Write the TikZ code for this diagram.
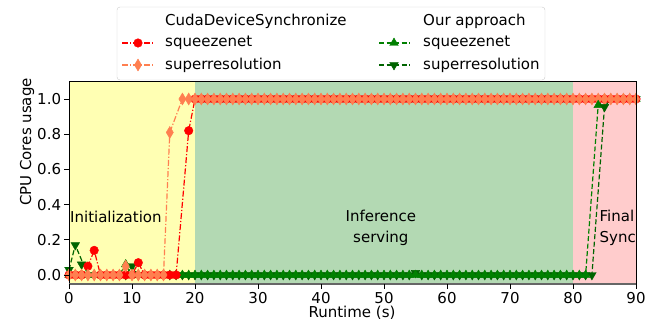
\documentclass[tikz,border=0pt]{standalone}
\usepackage{fontspec}
\setmainfont{DejaVu Sans}
\usetikzlibrary{plotmarks}

\definecolor{initspan}{RGB}{255,255,179}
\definecolor{servespan}{RGB}{179,217,179}
\definecolor{syncspan}{RGB}{255,204,204}
\definecolor{coral}{RGB}{255,127,80}
\definecolor{mplgreen}{RGB}{0,128,0}
\definecolor{mpldarkgreen}{RGB}{0,100,0}

\tikzset{
    cudaline/.style = {line width=1.2pt, dash pattern=on 6pt off 2pt on 1.2pt off 2pt},
    oursline/.style = {line width=1.2pt, dash pattern=on 5pt off 2.5pt},
    sqzcuda/.style = {red, only marks, mark=*, mark size=4.3pt,
        mark options={solid, line width=0.4pt, fill=red}},
    srcuda/.style = {coral, only marks, mark=diamond*, mark size=6pt,
        mark options={solid, line width=0.4pt, fill=coral, xscale=0.8}},
    sqzours/.style = {mplgreen, only marks, mark=triangle*, mark size=5pt,
        mark options={solid, line width=0.4pt, fill=mplgreen}},
    srours/.style = {mpldarkgreen, only marks, mark=triangle*, mark size=5pt,
        mark options={solid, line width=0.4pt, fill=mpldarkgreen, rotate=180}},
    ticklabel/.style = {font=\fontsize{15}{18}\selectfont, inner sep=0pt},
    phase/.style = {font=\fontsize{15}{21}\selectfont, inner sep=0pt},
    legendtext/.style = {font=\fontsize{15}{18}\selectfont, inner sep=0pt, anchor=west},
}

\begin{document}
\begin{tikzpicture}

    \useasboundingbox (0pt,0pt) rectangle (655pt,324pt);

    % Data coordinates: runtime in s, usage in cores.
    \begin{scope}[x=6.3pt, y=176pt, shift={(69pt,49pt)}]

        \coordinate (lowleft) at (0,-0.05);
        \coordinate (upright) at (90,1.1);

        % The three phases.
        \fill[initspan] (0,-0.05) rectangle (20,1.1);
        \fill[servespan] (20,-0.05) rectangle (80,1.1);
        \fill[syncspan] (80,-0.05) rectangle (90,1.1);

        \begin{scope}
            \clip (lowleft) rectangle (upright);
            \node[phase, anchor=west] (initlabel) at (0.15,0.33) {Initialization};
            \node[phase, align=center] (servelabel) at (49.5,0.267) {Inference\\serving};
            \node[phase, align=left, anchor=west] (synclabel) at (84.2,0.267) {Final\\Sync};
        \end{scope}

        % Our approach, superresolution.
        \draw[oursline, mpldarkgreen] plot coordinates {(0,0.03) (1,0.17) (3,0) (9,0)
            (10,0.05) (11,0) (54,0) (55,0.012) (56,0) (83,0) (85,0.955) (86,1) (90,1)};
        \foreach \t in {3,...,9} \path[srours] plot coordinates {(\t,0)};
        \foreach \t in {11,...,54} \path[srours] plot coordinates {(\t,0)};
        \foreach \t in {56,...,83} \path[srours] plot coordinates {(\t,0)};
        \foreach \t in {86,...,90} \path[srours] plot coordinates {(\t,1)};
        \path[srours] plot coordinates {(0,0.03) (1,0.17) (2,0.06) (10,0.05) (55,0.012)};

        % Our approach, squeezenet.
        \draw[oursline, mplgreen] plot coordinates {(0,0) (8,0) (9,0.06) (10,0)
            (82,0) (84,0.965) (85,1) (90,1)};
        \foreach \t in {0,...,8} \path[sqzours] plot coordinates {(\t,0)};
        \foreach \t in {10,...,82} \path[sqzours] plot coordinates {(\t,0)};
        \foreach \t in {85,...,90} \path[sqzours] plot coordinates {(\t,1)};
        \path[sqzours] plot coordinates {(9,0.06)};

        % CudaDeviceSynchronize, squeezenet.
        \draw[cudaline, red] plot coordinates {(0,0) (2,0) (3,0.05) (4,0.14) (5,0)
            (10,0) (11,0.07) (12,0) (17,0) (19,0.82) (20,1) (90,1)};
        \foreach \t in {0,1,2} \path[sqzcuda] plot coordinates {(\t,0)};
        \foreach \t in {5,...,10} \path[sqzcuda] plot coordinates {(\t,0)};
        \foreach \t in {12,...,17} \path[sqzcuda] plot coordinates {(\t,0)};
        \foreach \t in {20,...,90} \path[sqzcuda] plot coordinates {(\t,1)};
        \path[sqzcuda] plot coordinates {(3,0.05) (4,0.14) (11,0.07) (19,0.82)};

        % CudaDeviceSynchronize, superresolution.
        \draw[cudaline, coral] plot coordinates {(0,0) (8,0) (9,0.05) (10,0)
            (15,0) (16,0.81) (18,1) (90,1)};
        \foreach \t in {0,...,8} \path[srcuda] plot coordinates {(\t,0)};
        \foreach \t in {10,...,15} \path[srcuda] plot coordinates {(\t,0)};
        \foreach \t in {18,...,90} \path[srcuda] plot coordinates {(\t,1)};
        \path[srcuda] plot coordinates {(9,0.05) (16,0.81)};

        % The two late risers stay on top.
        \path[sqzours] plot coordinates {(84,0.965)};
        \path[srours] plot coordinates {(85,0.955)};

        % Axes frame and ticks.
        \draw[line width=0.8pt] (0,-0.05) -- (0,1.1) -- (90,1.1) -- (90,-0.05);
        \draw[line width=1.6pt, black!60] (0,-0.05) -- (90,-0.05);
        \foreach \t in {0,10,...,90}
            \draw[line width=0.8pt] (\t,-0.05) -- ++(0,-5pt)
                node[ticklabel, below=3.5pt] (xtick\t) {\t};
        \foreach \v [count=\i] in {0.0,0.2,0.4,0.6,0.8,1.0}
            \draw[line width=0.8pt] (0,\v) -- ++(-5pt,0)
                node[ticklabel, left=2.5pt] (ytick\i) {\v};

    \end{scope}

    % Axis titles.
    \node[ticklabel] (xtitle) at (352pt,11pt) {Runtime (s)};
    \node[ticklabel, rotate=90] (ytitle) at (27pt,182pt) {CPU Cores usage};

    % Legend.
    \draw[black!20, fill=white, fill opacity=0.8, rounded corners=3pt]
        (117pt,244pt) rectangle (545pt,317pt);
    \node[legendtext] (cudatitle) at (165pt,303pt) {CudaDeviceSynchronize};
    \node[legendtext] (ourstitle) at (423pt,303pt) {Our approach};

    \coordinate (lgA) at (122pt,281pt);
    \coordinate (lgB) at (153pt,281pt);
    \draw[cudaline, red] (lgA) -- (lgB);
    \path[sqzcuda] plot coordinates {(138pt,281pt)};
    \node[legendtext] (lgsqzcuda) at (165pt,281pt) {squeezenet};

    \coordinate (lgC) at (122pt,259pt);
    \coordinate (lgD) at (153pt,259pt);
    \draw[cudaline, coral] (lgC) -- (lgD);
    \path[srcuda] plot coordinates {(138pt,259pt)};
    \node[legendtext] (lgsrcuda) at (165pt,259pt) {superresolution};

    \coordinate (lgE) at (379pt,281pt);
    \coordinate (lgF) at (410pt,281pt);
    \draw[oursline, mplgreen] (lgE) -- (lgF);
    \path[sqzours] plot coordinates {(394pt,281pt)};
    \node[legendtext] (lgsqzours) at (423pt,281pt) {squeezenet};

    \coordinate (lgG) at (379pt,259pt);
    \coordinate (lgH) at (410pt,259pt);
    \draw[oursline, mpldarkgreen] (lgG) -- (lgH);
    \path[srours] plot coordinates {(394pt,259pt)};
    \node[legendtext] (lgsrours) at (423pt,259pt) {superresolution};

\end{tikzpicture}
\end{document}
